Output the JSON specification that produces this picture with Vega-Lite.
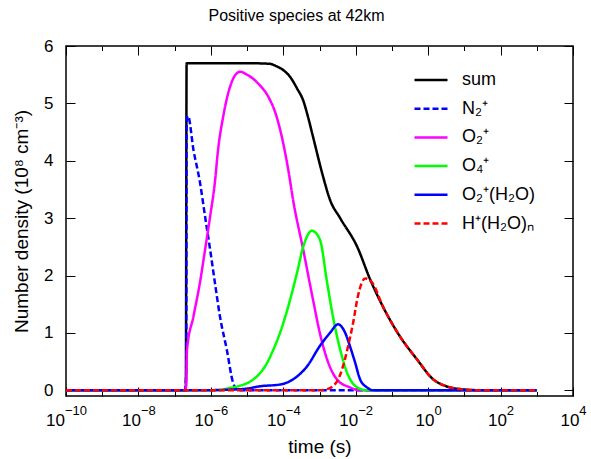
{
  "$schema": "https://vega.github.io/schema/vega-lite/v6.json",
  "width": 507,
  "height": 350,
  "autosize": {"type": "none"},
  "padding": {"left": 66, "top": 46, "right": 18, "bottom": 63},
  "background": "white",
  "config": {
    "font": "Liberation Sans",
    "view": {"stroke": "black", "strokeWidth": 1.5},
    "axis": {"domain": false, "grid": false, "tickColor": "black", "tickWidth": 1, "labelColor": "black", "titleColor": "black", "labelFont": "Liberation Sans", "titleFont": "Liberation Sans", "labelFontSize": 17, "titleFontSize": 19, "titleFontWeight": "normal"}
  },
  "title": {"text": "Positive species at 42km", "fontSize": 16, "fontWeight": "normal", "font": "Liberation Sans", "color": "black", "anchor": "middle", "dx": -23, "offset": 13},
  "data": {"values": [
    {"t": 1e-10, "v": 0, "s": "sum"},
    {"t": 1.995e-7, "v": 0, "s": "sum"},
    {"t": 2.04e-7, "v": 0.05, "s": "sum"},
    {"t": 2.14e-7, "v": 5.70, "s": "sum"},
    {"t": 3.16e-7, "v": 5.70, "s": "sum"},
    {"t": 1e-6, "v": 5.70, "s": "sum"},
    {"t": 1e-5, "v": 5.70, "s": "sum"},
    {"t": 4.27e-5, "v": 5.69, "s": "sum"},
    {"t": 6.31e-5, "v": 5.65, "s": "sum"},
    {"t": 1e-4, "v": 5.58, "s": "sum"},
    {"t": 1.55e-4, "v": 5.46, "s": "sum"},
    {"t": 2.40e-4, "v": 5.26, "s": "sum"},
    {"t": 3.55e-4, "v": 5.05, "s": "sum"},
    {"t": 4.79e-4, "v": 4.77, "s": "sum"},
    {"t": 6.61e-4, "v": 4.42, "s": "sum"},
    {"t": 1.26e-3, "v": 3.72, "s": "sum"},
    {"t": 1.95e-3, "v": 3.32, "s": "sum"},
    {"t": 3.72e-3, "v": 3.00, "s": "sum"},
    {"t": 1.10e-2, "v": 2.50, "s": "sum"},
    {"t": 2.51e-2, "v": 1.93, "s": "sum"},
    {"t": 5.62e-2, "v": 1.46, "s": "sum"},
    {"t": 0.166, "v": 0.94, "s": "sum"},
    {"t": 0.490, "v": 0.54, "s": "sum"},
    {"t": 1.38, "v": 0.19, "s": "sum"},
    {"t": 3.16, "v": 0.07, "s": "sum"},
    {"t": 7.59, "v": 0.02, "s": "sum"},
    {"t": 31.6, "v": 0, "s": "sum"},
    {"t": 1000, "v": 0, "s": "sum"},

    {"t": 1e-10, "v": 0, "s": "N₂⁺"},
    {"t": 1.905e-7, "v": 0, "s": "N₂⁺"},
    {"t": 2.09e-7, "v": 0.3, "s": "N₂⁺"},
    {"t": 2.14e-7, "v": 4.70, "s": "N₂⁺"},
    {"t": 2.34e-7, "v": 4.78, "s": "N₂⁺"},
    {"t": 3.31e-7, "v": 4.19, "s": "N₂⁺"},
    {"t": 5.01e-7, "v": 3.62, "s": "N₂⁺"},
    {"t": 6.92e-7, "v": 3.03, "s": "N₂⁺"},
    {"t": 9.55e-7, "v": 2.45, "s": "N₂⁺"},
    {"t": 1.29e-6, "v": 1.88, "s": "N₂⁺"},
    {"t": 1.78e-6, "v": 1.29, "s": "N₂⁺"},
    {"t": 2.75e-6, "v": 0.71, "s": "N₂⁺"},
    {"t": 4.07e-6, "v": 0.14, "s": "N₂⁺"},
    {"t": 5.01e-6, "v": 0.02, "s": "N₂⁺"},
    {"t": 6.31e-6, "v": 0, "s": "N₂⁺"},
    {"t": 1000, "v": 0, "s": "N₂⁺"},

    {"t": 1e-10, "v": 0, "s": "O₂⁺"},
    {"t": 1.905e-7, "v": 0, "s": "O₂⁺"},
    {"t": 2.09e-7, "v": 0.1, "s": "O₂⁺"},
    {"t": 2.19e-7, "v": 0.70, "s": "O₂⁺"},
    {"t": 3.31e-7, "v": 1.29, "s": "O₂⁺"},
    {"t": 5.01e-7, "v": 1.88, "s": "O₂⁺"},
    {"t": 6.92e-7, "v": 2.45, "s": "O₂⁺"},
    {"t": 9.55e-7, "v": 3.03, "s": "O₂⁺"},
    {"t": 1.29e-6, "v": 3.62, "s": "O₂⁺"},
    {"t": 1.58e-6, "v": 4.19, "s": "O₂⁺"},
    {"t": 2.19e-6, "v": 4.77, "s": "O₂⁺"},
    {"t": 3.39e-6, "v": 5.29, "s": "O₂⁺"},
    {"t": 5.62e-6, "v": 5.54, "s": "O₂⁺"},
    {"t": 6.46e-6, "v": 5.55, "s": "O₂⁺"},
    {"t": 1e-5, "v": 5.50, "s": "O₂⁺"},
    {"t": 2.0e-5, "v": 5.35, "s": "O₂⁺"},
    {"t": 3.98e-5, "v": 5.10, "s": "O₂⁺"},
    {"t": 6.31e-5, "v": 4.80, "s": "O₂⁺"},
    {"t": 1e-4, "v": 4.30, "s": "O₂⁺"},
    {"t": 1.41e-4, "v": 3.80, "s": "O₂⁺"},
    {"t": 1.86e-4, "v": 3.32, "s": "O₂⁺"},
    {"t": 3.55e-4, "v": 2.45, "s": "O₂⁺"},
    {"t": 6.61e-4, "v": 1.58, "s": "O₂⁺"},
    {"t": 1.02e-3, "v": 1.00, "s": "O₂⁺"},
    {"t": 1.62e-3, "v": 0.54, "s": "O₂⁺"},
    {"t": 3.02e-3, "v": 0.19, "s": "O₂⁺"},
    {"t": 6.92e-3, "v": 0.05, "s": "O₂⁺"},
    {"t": 1.32e-2, "v": 0, "s": "O₂⁺"},
    {"t": 1000, "v": 0, "s": "O₂⁺"},

    {"t": 1e-10, "v": 0, "s": "O₄⁺"},
    {"t": 1.41e-6, "v": 0, "s": "O₄⁺"},
    {"t": 3.39e-6, "v": 0.04, "s": "O₄⁺"},
    {"t": 6.46e-6, "v": 0.08, "s": "O₄⁺"},
    {"t": 1.20e-5, "v": 0.15, "s": "O₄⁺"},
    {"t": 2.29e-5, "v": 0.30, "s": "O₄⁺"},
    {"t": 3.31e-5, "v": 0.44, "s": "O₄⁺"},
    {"t": 5.25e-5, "v": 0.70, "s": "O₄⁺"},
    {"t": 8.13e-5, "v": 1.00, "s": "O₄⁺"},
    {"t": 1.26e-4, "v": 1.38, "s": "O₄⁺"},
    {"t": 2.40e-4, "v": 2.05, "s": "O₄⁺"},
    {"t": 3.55e-4, "v": 2.50, "s": "O₄⁺"},
    {"t": 6.17e-4, "v": 2.78, "s": "O₄⁺"},
    {"t": 1.02e-3, "v": 2.63, "s": "O₄⁺"},
    {"t": 1.62e-3, "v": 1.88, "s": "O₄⁺"},
    {"t": 2.34e-3, "v": 1.29, "s": "O₄⁺"},
    {"t": 3.72e-3, "v": 0.71, "s": "O₄⁺"},
    {"t": 5.75e-3, "v": 0.31, "s": "O₄⁺"},
    {"t": 1.10e-2, "v": 0.05, "s": "O₄⁺"},
    {"t": 2.04e-2, "v": 0, "s": "O₄⁺"},
    {"t": 1000, "v": 0, "s": "O₄⁺"},

    {"t": 1e-10, "v": 0, "s": "O₂⁺(H₂O)"},
    {"t": 5.01e-7, "v": 0, "s": "O₂⁺(H₂O)"},
    {"t": 3.16e-6, "v": 0.01, "s": "O₂⁺(H₂O)"},
    {"t": 1e-5, "v": 0.03, "s": "O₂⁺(H₂O)"},
    {"t": 2.29e-5, "v": 0.07, "s": "O₂⁺(H₂O)"},
    {"t": 8.13e-5, "v": 0.10, "s": "O₂⁺(H₂O)"},
    {"t": 1.86e-4, "v": 0.19, "s": "O₂⁺(H₂O)"},
    {"t": 4.57e-4, "v": 0.42, "s": "O₂⁺(H₂O)"},
    {"t": 1.02e-3, "v": 0.77, "s": "O₂⁺(H₂O)"},
    {"t": 1.95e-3, "v": 1.00, "s": "O₂⁺(H₂O)"},
    {"t": 3.24e-3, "v": 1.15, "s": "O₂⁺(H₂O)"},
    {"t": 5.13e-3, "v": 1.00, "s": "O₂⁺(H₂O)"},
    {"t": 6.92e-3, "v": 0.77, "s": "O₂⁺(H₂O)"},
    {"t": 9.55e-3, "v": 0.49, "s": "O₂⁺(H₂O)"},
    {"t": 1.32e-2, "v": 0.19, "s": "O₂⁺(H₂O)"},
    {"t": 2.04e-2, "v": 0.05, "s": "O₂⁺(H₂O)"},
    {"t": 3.02e-2, "v": 0, "s": "O₂⁺(H₂O)"},
    {"t": 1000, "v": 0, "s": "O₂⁺(H₂O)"},

    {"t": 1e-10, "v": 0, "s": "H⁺(H₂O)ₙ"},
    {"t": 1e-3, "v": 0, "s": "H⁺(H₂O)ₙ"},
    {"t": 1.62e-3, "v": 0.02, "s": "H⁺(H₂O)ₙ"},
    {"t": 3.02e-3, "v": 0.15, "s": "H⁺(H₂O)ₙ"},
    {"t": 4.47e-3, "v": 0.42, "s": "H⁺(H₂O)ₙ"},
    {"t": 6.17e-3, "v": 0.77, "s": "H⁺(H₂O)ₙ"},
    {"t": 8.51e-3, "v": 1.18, "s": "H⁺(H₂O)ₙ"},
    {"t": 1.15e-2, "v": 1.64, "s": "H⁺(H₂O)ₙ"},
    {"t": 1.82e-2, "v": 1.95, "s": "H⁺(H₂O)ₙ"},
    {"t": 2.82e-2, "v": 1.88, "s": "H⁺(H₂O)ₙ"},
    {"t": 5.62e-2, "v": 1.46, "s": "H⁺(H₂O)ₙ"},
    {"t": 0.166, "v": 0.94, "s": "H⁺(H₂O)ₙ"},
    {"t": 0.490, "v": 0.54, "s": "H⁺(H₂O)ₙ"},
    {"t": 1.38, "v": 0.19, "s": "H⁺(H₂O)ₙ"},
    {"t": 3.16, "v": 0.07, "s": "H⁺(H₂O)ₙ"},
    {"t": 7.59, "v": 0.02, "s": "H⁺(H₂O)ₙ"},
    {"t": 31.6, "v": 0, "s": "H⁺(H₂O)ₙ"},
    {"t": 1000, "v": 0, "s": "H⁺(H₂O)ₙ"}
  ]},
  "layer": [
    {
      "mark": {"type": "line", "strokeWidth": 2.5, "clip": true, "interpolate": "monotone"},
      "encoding": {
        "x": {"field": "t", "type": "quantitative", "scale": {"type": "log", "domain": [1e-10, 10000], "nice": false},
          "axis": {"orient": "bottom", "values": [1e-10, 1e-8, 1e-6, 1e-4, 0.01, 1, 100, 10000], "tickSize": -9, "labelPadding": 38, "labelBaseline": "alphabetic", "labelAlign": "center", "labelExpr": "'10'", "title": "time (s)", "titlePadding": 9,
            "labelOffset": {"condition": [{"test": "datum.value < 1e-9", "value": -11}, {"test": "datum.value < 0.1", "value": -7.4}], "value": -3.6}}},
        "y": {"field": "v", "type": "quantitative", "scale": {"domain": [-0.1, 6], "nice": false, "zero": false},
          "axis": {"orient": "left", "values": [0, 1, 2, 3, 4, 5, 6], "tickSize": -9, "labelPadding": 22, "title": "Number density (10⁸ cm⁻³)", "titlePadding": 12}},
        "color": {"field": "s", "type": "nominal",
          "scale": {"domain": ["sum", "N₂⁺", "O₂⁺", "O₄⁺", "O₂⁺(H₂O)", "H⁺(H₂O)ₙ"], "range": ["#000000", "#0000ff", "#ff00ff", "#00ff00", "#0000ff", "#ff0000"]},
          "legend": {"title": null, "orient": "none", "legendX": 347, "legendY": 16, "symbolType": "stroke", "symbolSize": 1089, "symbolStrokeWidth": 2.5, "labelFontSize": 18, "labelFont": "Liberation Sans", "labelColor": "black", "labelOffset": 13, "rowPadding": 1.7, "padding": 0}},
        "strokeDash": {"field": "s", "type": "nominal",
          "scale": {"domain": ["sum", "N₂⁺", "O₂⁺", "O₄⁺", "O₂⁺(H₂O)", "H⁺(H₂O)ₙ"], "range": [[1, 0], [6, 3], [1, 0], [1, 0], [1, 0], [6, 3]]},
          "legend": {"title": null}}
      }
    },
    {
      "mark": {"type": "point", "opacity": 0},
      "encoding": {
        "x": {"field": "t", "type": "quantitative", "axis": {"orient": "top", "values": [1e-10, 1e-8, 1e-6, 1e-4, 0.01, 1, 100, 10000], "tickSize": -9, "labels": false, "title": null}},
        "y": {"field": "v", "type": "quantitative", "axis": {"orient": "right", "values": [0, 1, 2, 3, 4, 5, 6], "tickSize": -9, "labels": false, "title": null}}
      }
    },
    {
      "mark": {"type": "point", "opacity": 0},
      "encoding": {
        "x": {"field": "t", "type": "quantitative", "axis": {"orient": "bottom", "values": [1e-9, 1e-7, 1e-5, 0.001, 0.1, 10, 1000], "tickSize": -4.5, "labels": false, "title": null}},
        "y": {"field": "v", "type": "quantitative", "axis": null}
      }
    },
    {
      "mark": {"type": "point", "opacity": 0},
      "encoding": {
        "x": {"field": "t", "type": "quantitative", "axis": {"orient": "top", "values": [1e-9, 1e-7, 1e-5, 0.001, 0.1, 10, 1000], "tickSize": -4.5, "labels": false, "title": null}},
        "y": {"field": "v", "type": "quantitative", "axis": null}
      }
    },
    {
      "mark": {"type": "point", "opacity": 0},
      "encoding": {
        "x": {"field": "t", "type": "quantitative", "axis": {"orient": "bottom", "values": [1e-10, 1e-8, 1e-6, 1e-4, 0.01, 1, 100, 10000], "ticks": false, "tickSize": 0, "labelPadding": 18, "labelBaseline": "alphabetic", "labelAlign": "left", "labelFontSize": 13, "title": null,
          "labelExpr": "datum.value < 1e-9 ? '−10' : datum.value < 1e-7 ? '−8' : datum.value < 1e-5 ? '−6' : datum.value < 1e-3 ? '−4' : datum.value < 0.1 ? '−2' : datum.value < 10 ? '0' : datum.value < 1000 ? '2' : '4'",
          "labelOffset": {"condition": [{"test": "datum.value < 1e-9", "value": -1.5}, {"test": "datum.value < 0.1", "value": 2}], "value": 5.8}}},
        "y": {"field": "v", "type": "quantitative", "axis": null}
      }
    }
  ],
  "resolve": {"axis": {"x": "independent", "y": "independent"}}
}
